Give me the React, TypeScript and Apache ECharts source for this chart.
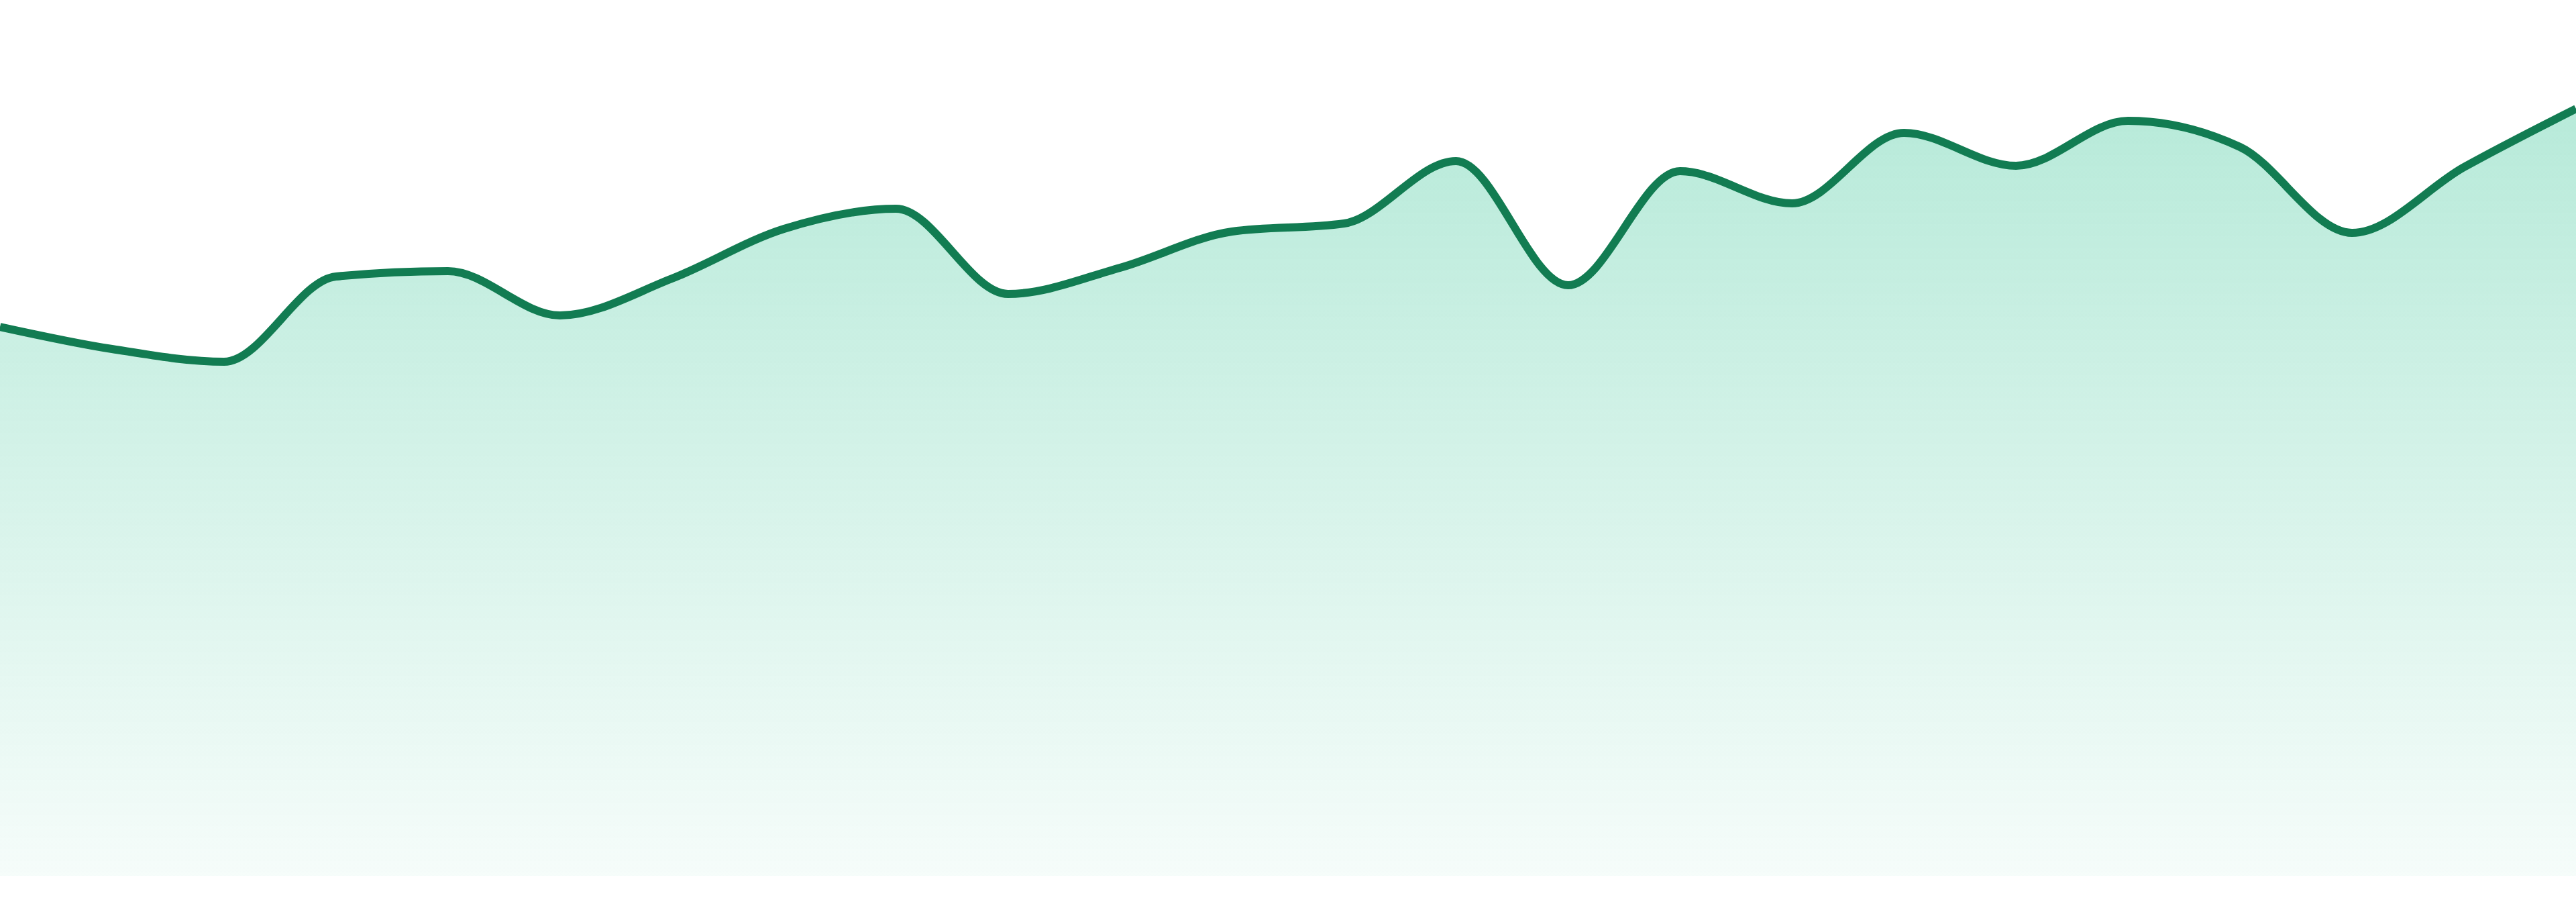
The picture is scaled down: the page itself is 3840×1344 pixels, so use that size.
import * as echarts from "echarts";
import { useEffect, useRef } from "react";

const hours = [
	"00:00", "01:00", "02:00", "03:00", "04:00", "05:00", "06:00", "07:00",
	"08:00", "09:00", "10:00", "11:00", "12:00", "13:00", "14:00", "15:00",
	"16:00", "17:00", "18:00", "19:00", "20:00", "21:00", "22:00", "23:00",
];

const values = [
	81.8, 78.5, 76.6, 89.3, 90.1, 83.5, 89.0, 96.4,
	99.4, 86.7, 90.6, 96.0, 97.2, 106.5, 88.0, 105.0,
	100.2, 110.7, 105.8, 112.5, 108.6, 95.8, 105.6, 114.3,
];

const yMin = 0;
const yMax = 120;

// monotone-x cubic (same maths as d3.curveMonotoneX) over pixel points
function monotonePath(pts: number[][]) {
	const n = pts.length;
	const sign = (v: number) => (v < 0 ? -1 : 1);
	const t: number[] = new Array(n).fill(0);
	for (let i = 1; i < n - 1; i++) {
		const h0 = pts[i][0] - pts[i - 1][0];
		const h1 = pts[i + 1][0] - pts[i][0];
		const s0 = (pts[i][1] - pts[i - 1][1]) / h0;
		const s1 = (pts[i + 1][1] - pts[i][1]) / h1;
		const p = (s0 * h1 + s1 * h0) / (h0 + h1);
		t[i] = (sign(s0) + sign(s1)) * Math.min(Math.abs(s0), Math.abs(s1), 0.5 * Math.abs(p)) || 0;
	}
	const h0 = pts[1][0] - pts[0][0];
	t[0] = (3 * (pts[1][1] - pts[0][1]) / h0 - t[1]) / 2;
	const hl = pts[n - 1][0] - pts[n - 2][0];
	t[n - 1] = (3 * (pts[n - 1][1] - pts[n - 2][1]) / hl - t[n - 2]) / 2;
	let d = `M${pts[0][0]},${pts[0][1]}`;
	for (let i = 0; i < n - 1; i++) {
		const [x0, y0] = pts[i];
		const [x1, y1] = pts[i + 1];
		const dx = (x1 - x0) / 3;
		d += `C${x0 + dx},${y0 + dx * t[i]},${x1 - dx},${y1 - dx * t[i + 1]},${x1},${y1}`;
	}
	return d;
}

export default function App() {
	const ref = useRef<HTMLDivElement>(null);
	useEffect(() => {
		if (!ref.current) return;
		const chart = echarts.init(ref.current, null, { renderer: "svg" });
		chart.setOption({
			animation: false,
			grid: { left: 0, right: 0, top: 105, bottom: 39 },
			xAxis: {
				type: "category",
				data: hours,
				boundaryGap: false,
				show: false,
			},
			yAxis: { type: "value", min: yMin, max: yMax, show: false },
			series: [
				{
					type: "custom",
					data: values,
					clip: false,
					renderItem: (params: any, api: any) => {
						if (params.dataIndex !== 0) return null;
						const pts = values.map((v, i) => api.coord([i, v]));
						const base = api.coord([0, yMin])[1];
						const line = monotonePath(pts);
						const area =
							line +
							`L${pts[pts.length - 1][0]},${base}L${pts[0][0]},${base}Z`;
						return {
							type: "group",
							children: [
								{
									type: "path",
									shape: { pathData: area },
									style: {
										fill: new echarts.graphic.LinearGradient(0, 0, 0, 1, [
											{ offset: 0, color: "rgba(16,185,129,0.3)" },
											{ offset: 1, color: "rgba(16,185,129,0.04)" },
										]),
										stroke: null,
									},
								},
								{
									type: "path",
									shape: { pathData: line },
									style: {
										fill: null,
										stroke: "#127c52",
										lineWidth: 12,
										lineJoin: "round",
									},
								},
							],
						};
					},
				},
			],
		});
		return () => chart.dispose();
	}, []);
	return (
		<div
			ref={ref}
			style={{ position: "fixed", left: 0, top: 0, width: "100vw", height: "100vh" }}
		/>
	);
}
